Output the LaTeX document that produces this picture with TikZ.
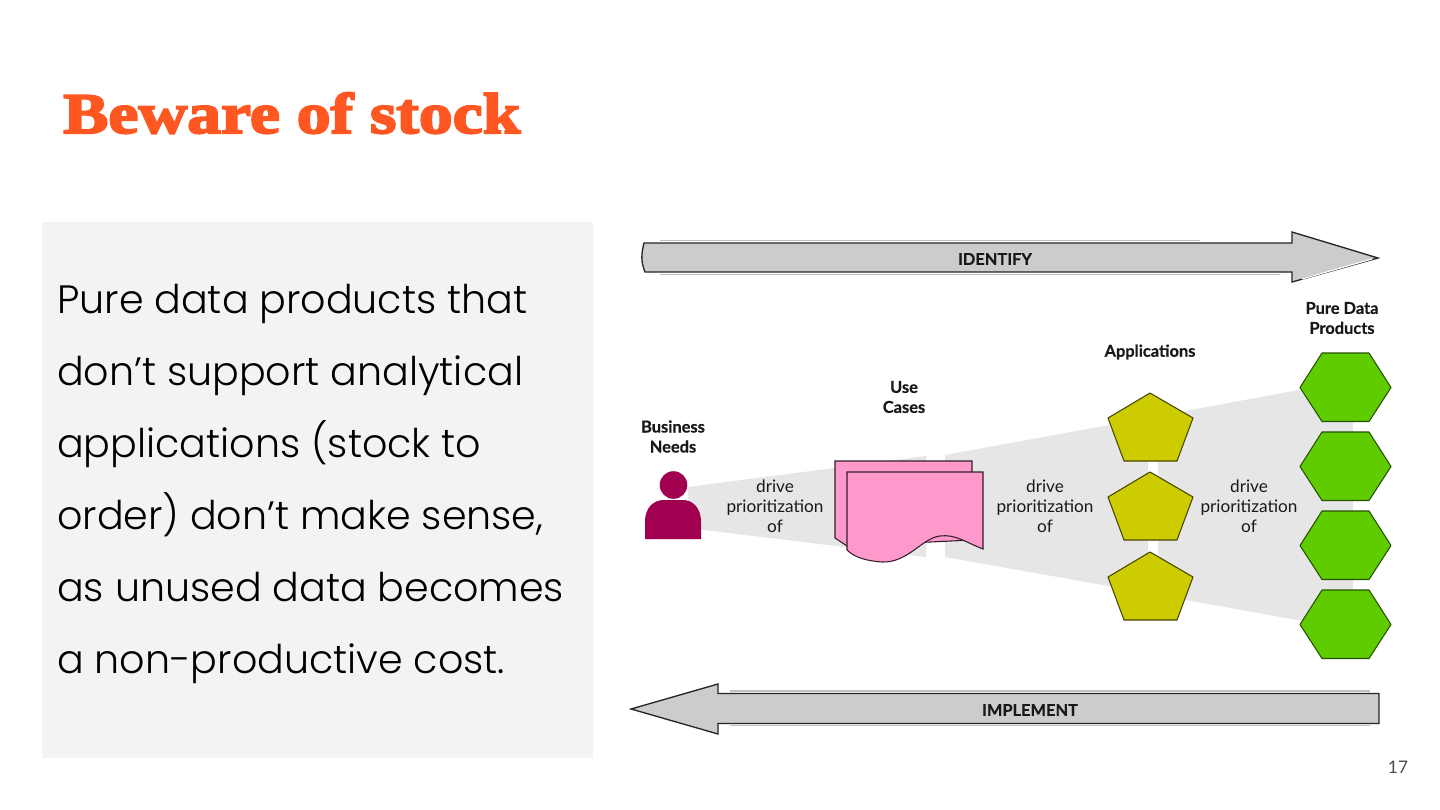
\documentclass[tikz,border=0pt]{standalone}
\usepackage{fontspec}
\setmainfont{Liberation Sans}
\newfontfamily\titlefont[FakeBold=3.6,FakeStretch=1.18]{Liberation Serif Bold}
\newfontfamily\bodyfont[UprightFont=* Light]{Poppins}
\newfontfamily\labelfont[FakeBold=0.5]{Lato Bold}
\newfontfamily\handfont{Lato}
\newfontfamily\numfont{Lato}
\definecolor{orangeT}{HTML}{FF5722}
\definecolor{panel}{HTML}{F3F3F3}
\definecolor{cone}{HTML}{E6E6E6}
\definecolor{arrowfill}{HTML}{CCCCCC}
\definecolor{person}{HTML}{A0004F}
\definecolor{pageP}{HTML}{FF99CC}
\definecolor{pent}{HTML}{CCCC00}
\definecolor{hexg}{HTML}{5FCC00}
\tikzset{
 bodyline/.style={anchor=base west,inner sep=0pt,font=\bodyfont\fontsize{29.7}{36}\selectfont,text=black},
 boldlabel/.style={inner sep=0pt,align=center,font=\labelfont\fontsize{12.3}{15}\selectfont,text=black!90},
 handlabel/.style={inner sep=0pt,align=center,font=\handfont\fontsize{12.9}{15.2}\selectfont,text=black!90},
 conefill/.style={fill=cone,draw=none},
 bigarrow/.style={fill=arrowfill,draw=black!85,line width=1pt,line join=miter},
 pagefill/.style={fill=pageP,draw=black!80!pageP,line width=0.8pt},
 pentshape/.style={fill=pent,draw=black!65!pent,line width=0.8pt,line join=round},
 hexshape/.style={fill=hexg,draw=black!60!hexg,line width=0.8pt,line join=round},
}
\begin{document}
\begin{tikzpicture}[x=0.75pt,y=-0.75pt]
\useasboundingbox (0,0) rectangle (1440,810);
\fill[white] (0,0) rectangle (1440,810);
\node[anchor=base west,inner sep=0pt,text=orangeT,font=\titlefont\fontsize{43}{50}\selectfont] (title) at (63,133) {Beware of stock};
\fill[panel] (42,222) rectangle (593,758);
\node[bodyline] (b1) at (57,313) {Pure data products that};
\node[bodyline] (b2) at (57,385) {don’t support analytical};
\node[bodyline] (b3) at (57,457) {applications (stock to};
\node[bodyline] (b4) at (57,529) {order) don’t make sense,};
\node[bodyline] (b5) at (57,601) {as unused data becomes};
\node[bodyline] (b6) at (57,673) {a non-productive cost.};
% cones
\path[conefill] (688,487) -- (926,456) -- (926,557) -- (688,528) -- cycle;
\path[conefill] (945,455) -- (1148,418) -- (1148,593) -- (945,557) -- cycle;
\path[conefill] (1158,416) -- (1353,380) -- (1353,630) -- (1158,595) -- cycle;
% arrows
\draw[black!25,line width=1.2pt] (660,240.5) -- (1200,240.5) (660,274.5) -- (1280,274.5);
\draw[bigarrow] (644,243) .. controls (641,255) and (641,262) .. (645,272) -- (1292,272) -- (1292,282) -- (1378,258) -- (1292,232) -- (1292,243) -- cycle;
\draw[white,line width=0.9pt] (1302,279) -- (1372,259);
\draw[black!25,line width=1.2pt] (730,691) -- (1370,691) (730,725.5) -- (1370,725.5);
\draw[bigarrow] (1379,693.5) -- (718,693.5) -- (718,684) -- (631,709) -- (718,734) -- (718,723.5) -- (1379,723.5) -- cycle;
\node[boldlabel] (identify) at (995,259) {IDENTIFY};
\node[boldlabel] (implement) at (1030,710) {IMPLEMENT};
% person
\fill[person] (673.5,485) circle (13.8);
\fill[person] (645,539) -- (701,539) -- (701,522) .. controls (701,507) and (692,500) .. (683,500) -- (664,500) .. controls (654,500) and (645,507) .. (645,522) -- cycle;
% pages
\draw[pagefill] (835,538) -- (835,461) -- (972,461) -- (972,540) -- (847,546) -- cycle;
\draw[pagefill] (847,472) -- (983,472) -- (983,549) .. controls (965,542) and (955,534) .. (940,536) .. controls (922,538) and (908,563) .. (882,562) .. controls (868,561) and (855,558) .. (847,550) -- cycle;
% pentagons
\foreach \n/\d in {p1/0,p2/79,p3/159}{
 \draw[pentshape,yshift=-0.75*\d pt] (1150,393) -- (1193,418) -- (1177,461) -- (1124,461) -- (1108,418) -- cycle;
}
% hexagons
\foreach \n/\d in {h1/0,h2/79,h3/158,h4/237}{
 \draw[hexshape,yshift=-0.75*\d pt] (1322,353) -- (1369,353) -- (1391,387.5) -- (1369,421.5) -- (1322,421.5) -- (1300,387.5) -- cycle;
}
% labels
\node[boldlabel] (needs) at (673,436.5) {Business\\Needs};
\node[boldlabel] (cases) at (904,397) {Use\\Cases};
\node[boldlabel] (apps) at (1150,352) {Applications};
\node[boldlabel] (pure) at (1342,318) {Pure Data\\Products};
\node[handlabel] (d1) at (775,506) {drive\\prioritization\\of};
\node[handlabel] (d2) at (1045,506) {drive\\prioritization\\of};
\node[handlabel] (d3) at (1249,506) {drive\\prioritization\\of};
\node[inner sep=0pt,text=black!70,font=\numfont\fontsize{13}{15}\selectfont] (num) at (1398,767) {17};
\end{tikzpicture}
\end{document}
